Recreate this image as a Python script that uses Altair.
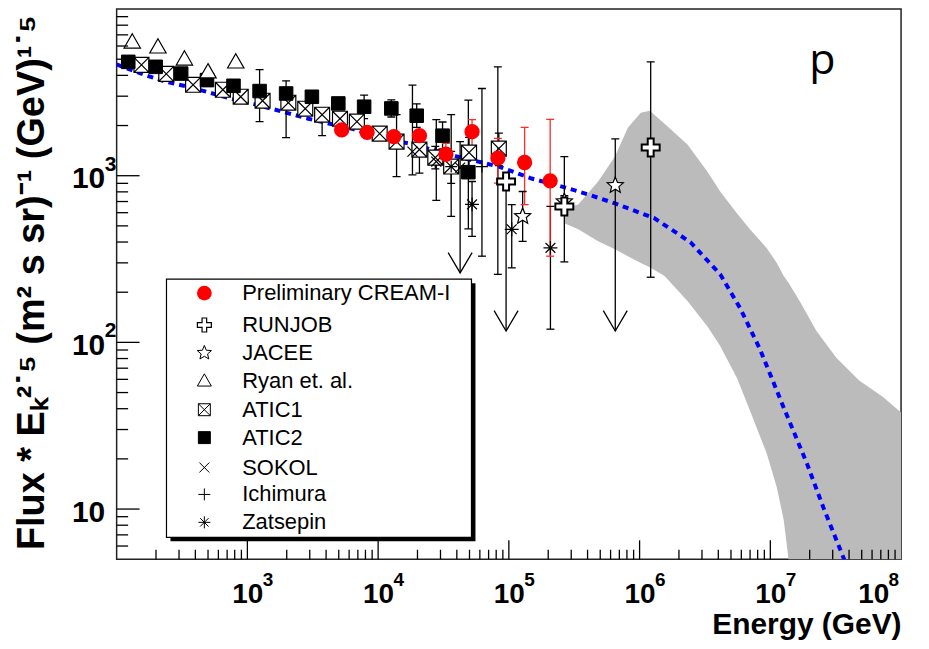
import altair as alt
import pandas as pd

# ---------------- data ----------------
cream_E = [5260, 8240, 13200, 20700, 33000, 52300, 82400, 132000, 207000]
cream_F = [1882, 1820, 1716, 1739, 1345, 1838, 1276, 1200, 932]
cream_hi = [1960, 1895, 1790, 1815, 1565, 2168, 1676, 1950, 2178]
cream_lo = [1805, 1745, 1640, 1665, 1167, 1475, 902, 670, 329]

runjob_E = [95240, 265700, 1216000]
runjob_F = [923, 654, 1475]
runjob_hi = [1000, 1303, 4820]
runjob_lo = [117, 304, 246]

jacee_E = [127500, 265700, 651600]
jacee_F = [570, 700, 874]
jacee_hi = [804, 760, 1662]
jacee_lo = [404, 640, 117]

ryan_E = [131.6, 207, 330, 500, 815]
ryan_F = [6350, 5930, 5020, 4200, 4820]

atic1_E = [154.8, 239.7, 384.3, 649.4, 889.5, 1307, 2058, 2772, 3730, 5109, 6878,
           10280, 13840, 20700, 27380, 36210, 49610, 83800]
atic1_F = [4624, 4085, 3512, 3279, 2977, 2817, 2741, 2523, 2323, 2198, 2110,
           1788, 1601, 1435, 1285, 1135, 1377, 1455]
atic1_hi = [4800, 4250, 3650, 3410, 3100, 2930, 2850, 2620, 2550, 2290, 2200,
            1880, 2323, 1700, 1500, 1400, 1700, 1800]
atic1_lo = [4450, 3920, 3370, 3150, 2860, 2700, 2630, 2420, 1740, 2110, 2020,
            1700, 988, 1035, 1100, 900, 1100, 1150]

atic2_E = [122.7, 198.8, 311.6, 491, 783, 1240, 1978, 3115, 4960, 7815, 12620, 19730, 31110, 49000]
atic2_F = [4820, 4500, 4100, 3746, 3463, 3220, 3114, 2976, 2714, 2594, 2533, 2291, 1739, 1050]
atic2_hi = [5000, 4680, 4260, 3900, 3600, 4335, 3710, 3120, 2850, 3048, 2850, 2700, 2100, 2844]
atic2_lo = [4640, 4330, 3950, 3600, 3330, 2110, 1692, 2840, 2580, 2200, 2250, 1950, 1450, 480]

sokol_E = [18310, 27860, 42390]
sokol_F = [1395, 1216, 1119]
sokol_hi = [3497, 2168, 1601]
sokol_lo = [1013, 711, 261]

ichimura_E = [36210, 62260, 82360]
ichimura_F = [1135, 1135, 1358]
ichimura_hi = [2323, 3336, 4499]
ichimura_lo = [570, 329, 256]

zatsepin_E = [52300, 105200, 208000]
zatsepin_F = [673, 477, 369]
zatsepin_hi = [923, 670, 654]
zatsepin_lo = [432, 280, 120]

# upper limits drawn as arrows
arrow_E = [42390, 95240, 651600]
arrow_F = [261, 117, 117]

# model curve (blue dotted)
model_E = [100, 165.2, 239.9, 352.4, 517.6, 746.4, 1096, 1641, 2921, 4285, 6310, 10840,
           17380, 40180, 83750, 149300, 270400, 425600, 648600, 1303000, 2449000, 4140000,
           5860000, 8318000, 12660000, 19030000, 25470000, 36140000, 45000000]
model_F = [4650, 4013, 3656, 3417, 3148, 2897, 2704, 2489, 2198, 2051, 1914, 1669,
           1560, 1303, 1135, 962, 849, 762, 682, 555, 399, 256,
           161, 91.3, 40.6, 18.8, 10.2, 5.14, 3.3]

# grey uncertainty band
band_E = [2.657e5, 3.395e5, 4.815e5, 6.48e5, 8.13e5, 1.021e6, 1.196e6, 1.553e6, 2.323e6,
          3.296e6, 4.136e6, 5.567e6, 6.982e6, 9.406e6, 1.12e7, 1.266e7, 1.382e7, 1.675e7,
          2.254e7, 3.199e7, 4.782e7, 7.277e7, 1e8]
band_hi = [637, 672, 923, 1303, 1941, 2388, 2455, 2051, 1537, 1059, 805, 594, 477, 367,
           299, 250, 227, 177, 117, 81, 59, 47, 38]
band_lo = [518, 477, 404, 362, 329, 299, 282, 250, 177, 125, 95, 61, 39, 21.5, 13.5,
           8.6, 4.9, 1, 1, 1, 1, 1, 1]

legend_labels = ["Preliminary CREAM-I", "RUNJOB", "JACEE", "Ryan et. al.", "ATIC1",
                 "ATIC2", "SOKOL", "Ichimura", "Zatsepin"]

x_label_vals = [1e3, 1e4, 1e5, 1e6, 1e7, 1e8]
x_exponents = ["3", "4", "5", "6", "7", "8"]
y_label_vals = [10, 100, 1000]
y_exp_vals = [100, 1000]
y_exponents = ["2", "3"]

x_major = [1e3, 1e4, 1e5, 1e6, 1e7]
x_minor = [k * 10 ** n for n in range(2, 8) for k in range(2, 10)]
y_major = [10, 100, 1000]
y_minor = [6, 7, 8, 9] + [k * 10 ** n for n in (1, 2, 3) for k in range(2, 10)]

# ---------------- styling ----------------
FONT = "Liberation Sans"
W, H = 787, 552

SQUARE_X = "M -1 -1 L 1 -1 L 1 1 L -1 1 Z M -1 -1 L 1 1 M 1 -1 L -1 1"
TRI = "M 0 -1 L 1 0.75 L -1 0.75 Z"
CROSS_OPEN = ("M -0.33 -1 L 0.33 -1 L 0.33 -0.33 L 1 -0.33 L 1 0.33 L 0.33 0.33 "
              "L 0.33 1 L -0.33 1 L -0.33 0.33 L -1 0.33 L -1 -0.33 L -0.33 -0.33 Z")
STAR = ("M 0 -1 L 0.26 -0.36 L 0.95 -0.31 L 0.43 0.14 L 0.59 0.81 L 0 0.45 "
        "L -0.59 0.81 L -0.43 0.14 L -0.95 -0.31 L -0.26 -0.36 Z")
XMARK = "M -1 -1 L 1 1 M 1 -1 L -1 1"
PLUS = "M -1 0 L 1 0 M 0 -1 L 0 1"
ASTER = "M -1 0 L 1 0 M 0 -1 L 0 1 M -0.7 -0.7 L 0.7 0.7 M 0.7 -0.7 L -0.7 0.7"
VHEAD = "M -1 -1.7 L 0 0 L 1 -1.7"
CAP = "M -1 0 L 1 0"

xscale = alt.Scale(type="log", domain=[100, 1e8], nice=False)
yscale = alt.Scale(type="log", domain=[5, 1e4], nice=False)

X_LAB_PAD = 21
x_axis = alt.Axis(values=x_label_vals, labelExpr="'10'", ticks=False, domain=False, grid=False,
                  labelFont=FONT, labelFontSize=28, labelFontWeight="bold", labelColor="black",
                  labelPadding=X_LAB_PAD, labelFlush=False, labelOverlap=False,
                  labelOffset={"condition": {"test": "datum.value > 5e7", "value": -28}, "value": 0},
                  title="Energy (GeV)", titleFont=FONT, titleFontSize=30, titleFontWeight="bold",
                  titleColor="black", titleAlign="right", titleAnchor="end", titleX=W, titleY=75,
                  titleBaseline="alphabetic")
y_axis = alt.Axis(values=y_label_vals, labelExpr="'10'", ticks=False, domain=False, grid=False,
                  labelFont=FONT, labelFontSize=30, labelFontWeight="bold", labelColor="black",
                  labelPadding=12, labelBaseline="middle", labelOffset=3, labelFlush=False,
                  labelOverlap=False,
                  title="Flux * E\u2096\u00b2\u02d9\u2075 (m\u00b2 s sr)\u207b\u00b9 (GeV)\u00b9\u02d9\u2075",
                  titleFont=FONT, titleFontSize=38, titleFontWeight="bold", titleColor="black",
                  titleAngle=270, titleX=-84, titleY=274, titleAlign="center",
                  titleBaseline="middle")


def X(f):
    return alt.X(f"{f}:Q", scale=xscale, axis=x_axis)


def Y(f):
    return alt.Y(f"{f}:Q", scale=yscale, axis=y_axis)


def points(E, F, shape, size, fill, stroke, sw, filled=True):
    df = pd.DataFrame({"E": E, "F": F})
    if filled:
        m = alt.Chart(df).mark_point(shape=shape, size=size, filled=True, fill=fill,
                                     stroke=stroke, strokeWidth=sw, opacity=1, clip=True)
    else:
        m = alt.Chart(df).mark_point(shape=shape, size=size, filled=False, color=stroke,
                                     strokeWidth=sw, opacity=1, clip=True)
    return m.encode(x=X("E"), y=Y("F"))


layers = []

# band and model
band_df = pd.DataFrame({"E": band_E, "lo": band_lo, "hi": band_hi})
layers.append(alt.Chart(band_df).mark_area(color="#bbbbbb", opacity=1, clip=True)
              .encode(x=X("E"), y=Y("lo"), y2=alt.Y2("hi:Q")))
model_df = pd.DataFrame({"E": model_E, "F": model_F})
layers.append(alt.Chart(model_df).mark_line(color="#0000ff", strokeWidth=4, strokeDash=[6, 5],
                                            clip=True)
              .encode(x=X("E"), y=Y("F")))

# error bars
arrow_pairs = set(zip(arrow_E, arrow_F))
err_rows, cap_rows = [], []
for E, hi, lo, col in [(atic1_E, atic1_hi, atic1_lo, "black"),
                       (atic2_E, atic2_hi, atic2_lo, "black"),
                       (sokol_E, sokol_hi, sokol_lo, "black"),
                       (ichimura_E, ichimura_hi, ichimura_lo, "black"),
                       (zatsepin_E, zatsepin_hi, zatsepin_lo, "black"),
                       (jacee_E, jacee_hi, jacee_lo, "black"),
                       (runjob_E, runjob_hi, runjob_lo, "black"),
                       (cream_E, cream_hi, cream_lo, "#ff2a2a")]:
    for e, h, l in zip(E, hi, lo):
        err_rows.append({"E": e, "lo": l, "hi": h, "col": col})
        cap_rows.append({"E": e, "F": h, "col": col})
        if (e, l) not in arrow_pairs:
            cap_rows.append({"E": e, "F": l, "col": col})
err_df = pd.DataFrame(err_rows)
cap_df = pd.DataFrame(cap_rows)
layers.append(alt.Chart(err_df).mark_rule(strokeWidth=1.3, clip=True)
              .encode(x=X("E"), y=Y("lo"), y2=alt.Y2("hi:Q"),
                      color=alt.Color("col:N", scale=None)))
layers.append(alt.Chart(cap_df).mark_point(shape=CAP, size=64, filled=False, strokeWidth=1.3,
                                           opacity=1, clip=True)
              .encode(x=X("E"), y=Y("F"), color=alt.Color("col:N", scale=None)))

# series markers
layers.append(points(atic1_E, atic1_F, SQUARE_X, 225, "white", "black", 1.2))
layers.append(points(atic2_E, atic2_F, "square", 185, "black", "black", 1))
layers.append(points(ryan_E, ryan_F, TRI, 270, "white", "black", 1.2))
layers.append(points(sokol_E, sokol_F, XMARK, 100, None, "black", 1.2, filled=False))
layers.append(points(ichimura_E, ichimura_F, PLUS, 144, None, "black", 1.2, filled=False))
layers.append(points(zatsepin_E, zatsepin_F, ASTER, 196, None, "black", 1.2, filled=False))
layers.append(points(jacee_E, jacee_F, STAR, 289, "white", "black", 1.2))
layers.append(points(runjob_E, runjob_F, CROSS_OPEN, 324, "white", "black", 2))
layers.append(points(arrow_E, arrow_F, VHEAD, 576, None, "black", 1.3, filled=False))
layers.append(points(cream_E, cream_F, "circle", 235, "#ff0000", "#ff0000", 0))

# inner ticks
for vals, ln in [(x_major, 19), (x_minor, 9.5)]:
    layers.append(alt.Chart(pd.DataFrame({"E": vals})).mark_rule(color="black", strokeWidth=1.3)
                  .encode(x=X("E"), y=alt.value(H), y2=alt.value(H - ln)))
for vals, ln in [(y_major, 23), (y_minor, 11.5)]:
    layers.append(alt.Chart(pd.DataFrame({"F": vals})).mark_rule(color="black", strokeWidth=1.3)
                  .encode(y=Y("F"), x=alt.value(0), x2=alt.value(ln)))

# exponents of the tick labels
EXP_Y = H + X_LAB_PAD + 6
xe = pd.DataFrame({"E": x_label_vals[:-1], "t": x_exponents[:-1]})
layers.append(alt.Chart(xe).mark_text(align="left", baseline="alphabetic", dx=15.5, font=FONT,
                                      fontSize=19, fontWeight="bold", color="black")
              .encode(x=X("E"), y=alt.value(EXP_Y), text="t:N"))
xe8 = pd.DataFrame({"E": x_label_vals[-1:], "t": x_exponents[-1:]})
layers.append(alt.Chart(xe8).mark_text(align="left", baseline="alphabetic", dx=-12.5, font=FONT,
                                       fontSize=19, fontWeight="bold", color="black")
              .encode(x=X("E"), y=alt.value(EXP_Y), text="t:N"))
ye = pd.DataFrame({"F": y_exp_vals, "t": y_exponents})
layers.append(alt.Chart(ye).mark_text(align="left", baseline="alphabetic", dy=-5, font=FONT,
                                      fontSize=21, fontWeight="bold", color="black")
              .encode(y=Y("F"), x=alt.value(-12), text="t:N"))

# legend box
one = pd.DataFrame({"k": [0]})
layers.append(alt.Chart(one).mark_rect(color="black")
              .encode(x=alt.value(54), x2=alt.value(360), y=alt.value(275), y2=alt.value(534)))
layers.append(alt.Chart(one).mark_rect(fill="white", stroke="black", strokeWidth=1.2)
              .encode(x=alt.value(50), x2=alt.value(356), y=alt.value(271), y2=alt.value(530)))
row_y = [285, 317, 345, 373, 402, 430, 460, 487, 515]
leg_styles = [("circle", 220, "#ff0000", "#ff0000", 0, True),
              (CROSS_OPEN, 196, "white", "black", 1.2, True),
              (STAR, 225, "white", "black", 1.0, True),
              (TRI, 196, "white", "black", 1.0, True),
              (SQUARE_X, 144, "white", "black", 1.0, True),
              ("square", 144, "black", "black", 1.0, True),
              (XMARK, 100, None, "black", 1.0, False),
              (PLUS, 144, None, "black", 1.0, False),
              (ASTER, 144, None, "black", 1.0, False)]
for lab, yy, (shp, sz, fl, st, sw, filled) in zip(legend_labels, row_y, leg_styles):
    if filled:
        mk = alt.Chart(one).mark_point(shape=shp, size=sz, filled=True, fill=fl, stroke=st,
                                       strokeWidth=sw, opacity=1)
    else:
        mk = alt.Chart(one).mark_point(shape=shp, size=sz, filled=False, color=st,
                                       strokeWidth=sw, opacity=1)
    layers.append(mk.encode(x=alt.value(88), y=alt.value(yy)))
    layers.append(alt.Chart(one).mark_text(align="left", baseline="middle", font=FONT,
                                           fontSize=22, color="black")
                  .encode(x=alt.value(126), y=alt.value(yy), text=alt.value(lab)))

# particle label
layers.append(alt.Chart(one).mark_text(align="left", baseline="alphabetic", font="Open Sans",
                                       fontSize=43, color="black")
              .encode(x=alt.value(695), y=alt.value(65), text=alt.value("p")))

chart = (alt.layer(*layers)
         .properties(width=W, height=H,
                     autosize=alt.AutoSizeParams(type="none"),
                     padding={"left": 109, "top": 0, "right": 20, "bottom": 81},
                     background="white")
         .configure_view(stroke="#222222", strokeWidth=1.5))

chart.save("out.html", embed_options={"renderer": "svg", "actions": False})
